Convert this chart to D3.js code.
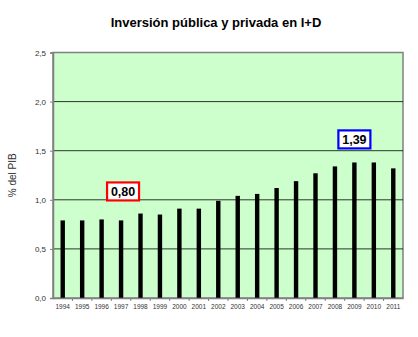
<!DOCTYPE html>
<html><head><meta charset="utf-8">
<script src="https://cdn.jsdelivr.net/npm/d3@7"></script>
<style>body{margin:0;background:#fff;}svg{display:block;font-family:Arial,"Liberation Sans",sans-serif;}</style>
</head><body>
<script>
const years = ["1994","1995","1996","1997","1998","1999","2000","2001","2002","2003","2004","2005","2006","2007","2008","2009","2010","2011"];
const values = [0.79,0.79,0.80,0.79,0.86,0.85,0.91,0.91,0.99,1.04,1.06,1.12,1.19,1.27,1.34,1.38,1.38,1.32];
const yTicks = [0,0.5,1.0,1.5,2.0,2.5];
const callouts = [{year:"1997", label:"0,80", color:"#ff0000", value:1.08, dx:2},{year:"2009", label:"1,39", color:"#0000ff", value:1.61, dx:0}];

const W=418,H=337;
const m={l:53,r:15,t:52.5,b:39};
const svg=d3.select("body").append("svg").attr("width",W).attr("height",H);
const x=d3.scaleBand().domain(years).range([m.l,W-m.r]);
const y=d3.scaleLinear().domain([0,2.5]).range([H-m.b,m.t]);
const fmt=d=>d3.format(".1f")(d).replace(".",",");

svg.append("rect").attr("x",m.l).attr("y",m.t).attr("width",W-m.r-m.l).attr("height",H-m.b-m.t)
  .attr("fill","#ccffcc").attr("stroke","#808080").attr("stroke-width",1.5);

svg.append("g").selectAll("line").data(yTicks.filter(d=>d>0&&d<2.5)).join("line")
  .attr("x1",m.l).attr("x2",W-m.r).attr("y1",d=>y(d)).attr("y2",d=>y(d))
  .attr("stroke","#000").attr("stroke-width",0.8);

svg.append("g").selectAll("rect").data(values).join("rect")
  .attr("x",(d,i)=>x(years[i])+x.bandwidth()/2-2.2).attr("width",4.4)
  .attr("y",d=>y(d)).attr("height",d=>y(0)-y(d)).attr("fill","#000");

// y axis
const ya=svg.append("g").attr("transform",`translate(${m.l},0)`)
  .call(d3.axisLeft(y).tickValues(yTicks).tickSize(3).tickFormat(fmt));
ya.select(".domain").attr("stroke","#808080").attr("stroke-width",1.5);
ya.selectAll(".tick line").attr("stroke","#808080");
ya.selectAll("text").attr("font-size",8).attr("fill","#333").attr("font-family","Arial,'Liberation Sans',sans-serif").attr("dx",-1);

// x axis
const xa=svg.append("g").attr("transform",`translate(0,${H-m.b})`)
  .call(d3.axisBottom(x).tickSize(0).tickPadding(6));
xa.select(".domain").attr("stroke","#808080").attr("stroke-width",1.5);
xa.selectAll("text").attr("font-size",6.5).attr("fill","#333").attr("font-family","Arial,'Liberation Sans',sans-serif");
xa.selectAll(".sep").data(years.slice(1)).join("line").attr("class","sep")
  .attr("x1",d=>x(d)).attr("x2",d=>x(d)).attr("y1",0).attr("y2",3).attr("stroke","#808080");

// title
svg.append("text").attr("x",216).attr("y",27).attr("text-anchor","middle")
  .attr("font-size",13).attr("font-weight","bold").attr("fill","#000").text("Inversión pública y privada en I+D");

// y label
svg.append("text").attr("transform",`translate(16,${(m.t+H-m.b)/2}) rotate(-90)`).attr("text-anchor","middle")
  .attr("font-size",10).attr("fill","#333").text("% del PIB");

// callouts
callouts.forEach(c=>{
  const cx=x(c.year)+x.bandwidth()/2+c.dx;
  const cy=y(c.value);
  const g=svg.append("g");
  g.append("rect").attr("x",cx-16).attr("y",cy-9.5).attr("width",32).attr("height",18)
    .attr("fill","#fff").attr("stroke",c.color).attr("stroke-width",2.2);
  g.append("text").attr("x",cx).attr("y",cy+4.5).attr("text-anchor","middle").attr("font-size",12.5)
    .attr("font-weight","bold").attr("fill","#000").text(c.label);
});
</script>
</body></html>
